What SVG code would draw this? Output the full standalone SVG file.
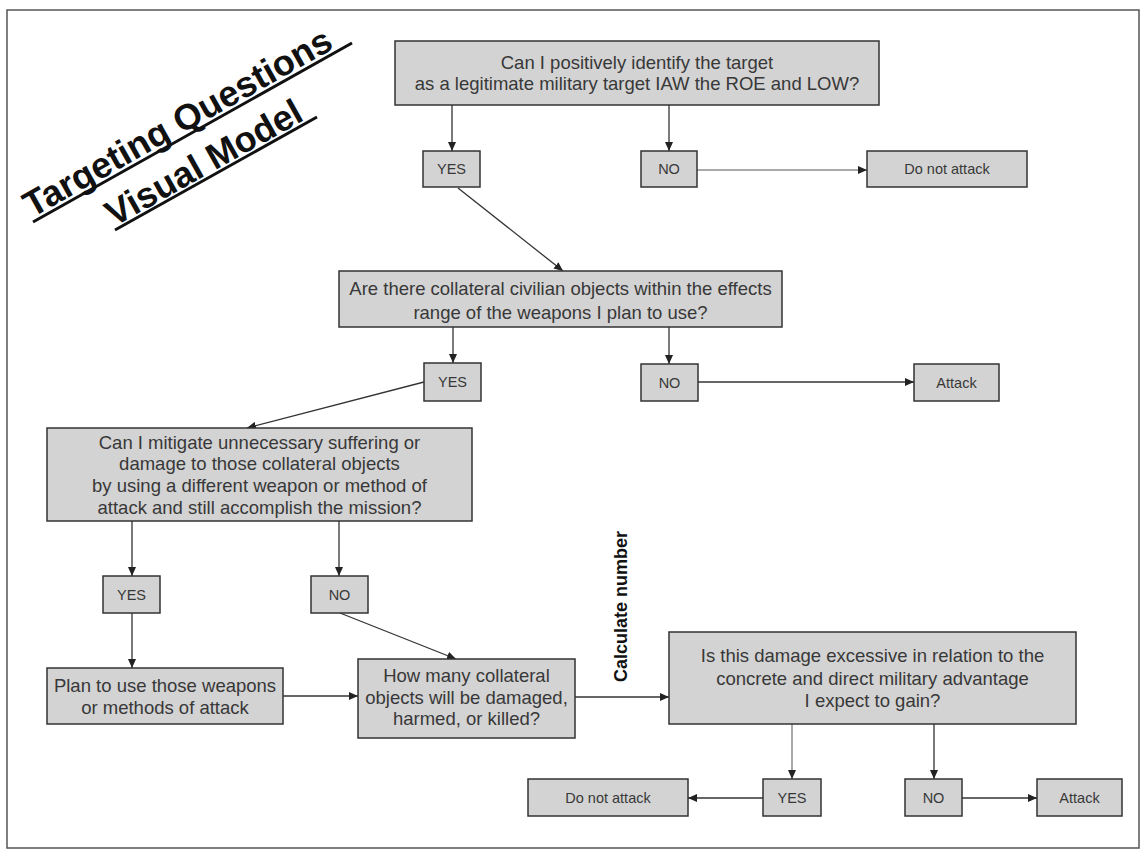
<svg xmlns="http://www.w3.org/2000/svg" width="1146" height="858" viewBox="0 0 1146 858">
<style>
.box{fill:#d3d3d3;stroke:#333;stroke-width:1.5}
.t{font-family:"Liberation Sans",Arial,sans-serif;font-size:18.5px;fill:#383838;text-anchor:middle}
.s{font-family:"Liberation Sans",Arial,sans-serif;font-size:14.5px;fill:#383838;text-anchor:middle}
.ttl{font-family:"Liberation Sans",Arial,sans-serif;font-size:36px;font-weight:bold;fill:#111}
.c{stroke:#333;stroke-width:1.3;fill:none;marker-end:url(#ah)}
.thin{stroke:#555;stroke-width:1}
.ul{stroke:#111;stroke-width:3}
</style>
<defs>
<marker id="ah" markerUnits="userSpaceOnUse" markerWidth="9" markerHeight="8" refX="9" refY="4" orient="auto">
<path d="M0,0 L9,4 L0,8 z" fill="#222"/>
</marker>
</defs>
<rect x="0" y="0" width="1146" height="858" fill="#fff"/>
<rect x="7" y="10" width="1132" height="838" fill="none" stroke="#555" stroke-width="1.5"/>
<g id="title">
<text class="ttl" transform="translate(32,218) rotate(-29.3)">Targeting Questions</text>
<line class="ul" x1="33" y1="222" x2="352" y2="43"/>
<text class="ttl" transform="translate(114,227) rotate(-29.3)">Visual Model</text>
<line class="ul" x1="115" y1="230" x2="317" y2="117"/>
</g>
<g id="connectors">
<line class="c" x1="452" y1="105" x2="452" y2="151"/>
<line class="c" x1="669" y1="105" x2="669" y2="151"/>
<line class="c thin" x1="697" y1="170" x2="867" y2="170"/>
<line class="c" x1="458" y1="188" x2="563" y2="271"/>
<line class="c" x1="453" y1="327" x2="453" y2="363"/>
<line class="c" x1="669" y1="327" x2="669" y2="364"/>
<line class="c" x1="698" y1="382" x2="914" y2="382"/>
<line class="c" x1="424" y1="382" x2="247" y2="428"/>
<line class="c" x1="132" y1="521" x2="132" y2="576"/>
<line class="c" x1="339" y1="521" x2="339" y2="576"/>
<line class="c" x1="132" y1="613" x2="132" y2="668"/>
<line class="c" x1="340" y1="613" x2="456" y2="659"/>
<line class="c" x1="283" y1="696" x2="358" y2="696"/>
<line class="c" x1="575" y1="697" x2="669" y2="697"/>
<line class="c thin" x1="792" y1="724" x2="792" y2="779"/>
<line class="c" x1="934" y1="724" x2="934" y2="779"/>
<line class="c" x1="763" y1="798" x2="688" y2="798"/>
<line class="c" x1="962" y1="798" x2="1037" y2="798"/>
</g>
<g id="q1">
<rect class="box" x="395" y="41" width="484" height="64"/>
<text class="t" x="637" y="68.5">Can I positively identify the target</text>
<text class="t" x="637" y="89.5">as a legitimate military target IAW the ROE and LOW?</text>
</g>
<g id="yes1"><rect class="box" x="423" y="151" width="57" height="36"/><text class="s" x="451.5" y="174">YES</text></g>
<g id="no1"><rect class="box" x="641" y="151" width="56" height="36"/><text class="s" x="669" y="174">NO</text></g>
<g id="dna1"><rect class="box" x="867" y="151" width="160" height="36"/><text class="s" x="947" y="174">Do not attack</text></g>
<g id="q2">
<rect class="box" x="339" y="271" width="443" height="56"/>
<text class="t" x="560.5" y="294.5">Are there collateral civilian objects within the effects</text>
<text class="t" x="560.5" y="318.5">range of the weapons I plan to use?</text>
</g>
<g id="yes2"><rect class="box" x="424" y="363" width="57" height="38"/><text class="s" x="452.5" y="387">YES</text></g>
<g id="no2"><rect class="box" x="641" y="364" width="57" height="37"/><text class="s" x="669.5" y="387.5">NO</text></g>
<g id="attack2"><rect class="box" x="914" y="364" width="85" height="37"/><text class="s" x="956.5" y="387.5">Attack</text></g>
<g id="q3">
<rect class="box" x="47" y="428" width="425" height="93"/>
<text class="t" x="259.5" y="448.5">Can I mitigate unnecessary suffering or</text>
<text class="t" x="259.5" y="469.5">damage to those collateral objects</text>
<text class="t" x="259.5" y="491.5">by using a different weapon or method of</text>
<text class="t" x="259.5" y="513.5">attack and still accomplish the mission?</text>
</g>
<g id="yes3"><rect class="box" x="103" y="576" width="57" height="37"/><text class="s" x="131.5" y="599.5">YES</text></g>
<g id="no3"><rect class="box" x="311" y="576" width="57" height="37"/><text class="s" x="339.5" y="599.5">NO</text></g>
<g id="plan">
<rect class="box" x="47" y="668" width="236" height="56"/>
<text class="t" x="165" y="691.5">Plan to use those weapons</text>
<text class="t" x="165" y="713.5">or methods of attack</text>
</g>
<g id="howmany">
<rect class="box" x="358" y="659" width="217" height="79"/>
<text class="t" x="466.5" y="681.5">How many collateral</text>
<text class="t" x="466.5" y="703.5">objects will be damaged,</text>
<text class="t" x="466.5" y="724.5">harmed, or killed?</text>
</g>
<g id="calc">
<text transform="translate(627,682) rotate(-90)" style="font-family:'Liberation Sans',Arial,sans-serif;font-size:18px;font-weight:bold;fill:#111">Calculate number</text>
</g>
<g id="q4">
<rect class="box" x="669" y="632" width="407" height="92"/>
<text class="t" x="872.5" y="661.5">Is this damage excessive in relation to the</text>
<text class="t" x="872.5" y="684.5">concrete and direct military advantage</text>
<text class="t" x="872.5" y="706.5">I expect to gain?</text>
</g>
<g id="yes4"><rect class="box" x="763" y="779" width="58" height="37"/><text class="s" x="792" y="802.5">YES</text></g>
<g id="no4"><rect class="box" x="905" y="779" width="57" height="37"/><text class="s" x="933.5" y="802.5">NO</text></g>
<g id="dna2"><rect class="box" x="528" y="779" width="160" height="37"/><text class="s" x="608" y="802.5">Do not attack</text></g>
<g id="attack3"><rect class="box" x="1037" y="779" width="85" height="37"/><text class="s" x="1079.5" y="802.5">Attack</text></g>
</svg>
